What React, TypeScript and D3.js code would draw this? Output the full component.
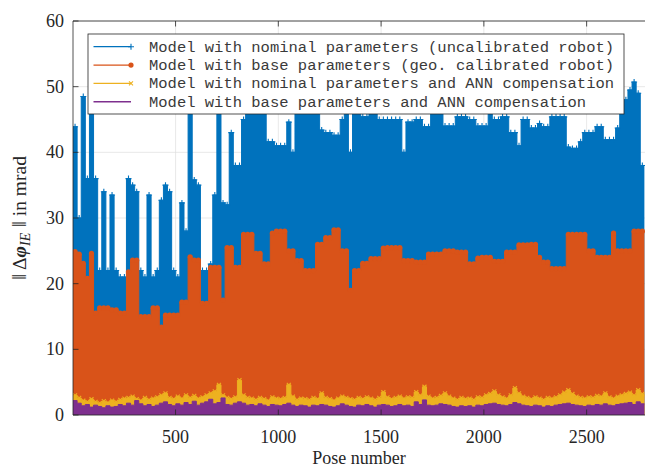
import React from "react";
import * as d3 from "d3";

// ---------- data (one value per block of 20 poses) ----------
const xTicks = [500, 1000, 1500, 2000, 2500];
const yTicks = [0, 10, 20, 30, 40, 50, 60];
const FIRST_POSE = 1;
const LAST_POSE = 2784;
const POSES_PER_BIN = 20;

const seriesNames = [
  "Model with nominal parameters (uncalibrated robot)",
  "Model with base parameters (geo. calibrated robot)",
  "Model with nominal parameters and ANN compensation",
  "Model with base parameters and ANN compensation",
];

// upper envelope of the error per block of poses (mrad)
const nominalUncal = [
  43.9, 30, 48.5, 36, 52, 36, 22, 34, 22, 33.5,
  22, 21, 21, 36, 35, 34, 22, 21, 33.5, 21,
  22, 32.7, 35, 34, 22, 21, 32.3, 28, 55, 35.8,
  35, 22, 22, 23, 33.5, 55, 32.3, 32, 43, 38,
  38, 45, 47, 48, 48, 48, 47, 41.6, 41.6, 41,
  41, 41, 44.6, 40, 48, 48, 48, 48, 48, 48,
  43.4, 43, 43, 42.6, 42.6, 45, 48, 40, 48, 48,
  45.4, 45.4, 48, 48, 45, 45, 45, 45, 45, 45,
  40, 44.6, 44.6, 45, 45, 43.9, 43.9, 47, 47, 47,
  44, 44, 44, 45.4, 45.4, 45.4, 45, 45, 44, 44,
  44, 46, 45, 45, 45.4, 45.4, 43, 43, 41, 45,
  45, 43.7, 43.7, 44.4, 43.9, 43.9, 45.4, 45.4, 45.4, 45.4,
  40.8, 40.6, 40.6, 41.6, 43, 43, 43, 43.9, 43.9, 41.9,
  41.9, 41.9, 43.7, 47, 48, 49.5, 50.7, 49, 38,
];

const baseGeoCal = [
  24.9, 24.5, 23.1, 20.8, 24.6, 15.5, 16.3, 16.3, 16.3, 16,
  16, 15.5, 15.5, 21.8, 23.6, 23.6, 15, 15, 15, 16.3,
  16.3, 13.4, 15.2, 15.2, 15.2, 15.2, 17.2, 17.2, 24.1, 23.6,
  23.6, 17, 17, 22.5, 22.5, 22.5, 17.5, 25.5, 25.5, 22.5,
  22.5, 27.5, 27.5, 27.5, 24.6, 24.6, 23, 23, 27.7, 28,
  28, 28, 25, 25, 23.5, 23.5, 22, 22, 22, 26,
  26, 27, 27, 28.2, 28.2, 25, 25, 19, 22, 22,
  23.1, 23.1, 23.8, 23.8, 23.8, 25.4, 25.5, 25.5, 25.5, 25.5,
  23.5, 23.5, 23.5, 23.3, 23.3, 23.3, 24.5, 24.5, 24.5, 24.5,
  25, 25, 25, 24.8, 24.8, 24.8, 23, 23, 23.9, 24,
  24, 24, 23.4, 23.4, 23.4, 24.8, 24.8, 24.8, 25.9, 25.9,
  25.9, 26, 26, 24, 23.3, 23.3, 22.3, 22.3, 22.3, 22.3,
  27.5, 27.5, 27.5, 27.5, 27.5, 25, 25, 24, 24, 24,
  24, 27.7, 25, 25, 25, 25, 28, 28, 28,
];

const nominalAnn = [
  3.0, 2.6, 2.2, 2.0, 2.4, 2.0, 1.8, 2.1, 1.9, 2.2,
  2.0, 2.3, 2.5, 2.6, 2.8, 2.4, 2.2, 2.6, 2.3, 2.5,
  2.7, 3.0, 3.3, 2.6, 2.4, 2.8, 2.5, 3.0, 2.6, 2.9,
  2.5, 2.7, 3.0, 3.3, 3.6, 4.6, 3.0, 2.6, 2.4, 2.7,
  5.3, 3.0, 2.6, 2.5, 2.3, 2.6, 2.4, 2.2, 2.7, 2.5,
  2.4, 2.6, 4.6, 2.8, 2.3, 2.5, 2.4, 2.3, 2.6, 2.4,
  3.3, 2.6, 2.4, 2.2, 2.5, 2.8, 2.6, 2.4, 2.3, 2.6,
  2.4, 2.7, 2.5, 2.3, 2.6, 3.5, 2.7, 2.4, 2.6, 2.8,
  2.5, 2.7, 2.6, 3.5, 3.0, 4.3, 2.8, 2.5, 2.6, 2.9,
  3.3, 2.8, 2.5, 2.3, 2.6, 2.4, 2.5, 2.3, 2.7, 2.6,
  3.0, 3.2, 3.6, 3.0, 2.7, 2.5, 3.0, 4.1, 3.3, 2.8,
  2.6, 2.4, 2.7, 2.5, 2.3, 2.6, 2.5, 2.7, 3.0, 3.4,
  3.8, 3.2, 2.8, 2.6, 2.5, 2.7, 2.6, 2.9, 2.8, 3.3,
  2.7, 2.5, 2.8, 3.0, 3.2, 3.4, 3.0, 3.8, 3.2,
];

const baseAnn = [
  2.2, 1.8, 1.4, 1.6, 1.2, 1.5, 1.3, 1.1, 1.4, 1.2,
  1.3, 1.6, 1.4, 1.8, 1.5, 2.2, 1.7, 1.4, 1.6, 1.3,
  1.5, 1.8, 2.0, 1.6, 1.4, 1.7, 1.5, 1.9, 1.6, 2.1,
  1.5, 1.8, 2.0, 2.4, 1.7, 1.9, 2.6, 1.6, 1.5, 1.8,
  2.0, 1.8, 1.5, 1.6, 1.4, 1.7, 1.5, 1.3, 1.6, 1.5,
  1.4, 1.6, 1.8, 1.5, 1.3, 1.5, 1.4, 1.2, 1.5, 1.4,
  1.6, 1.5, 1.3, 1.2, 1.4, 1.7, 1.5, 1.3, 1.2, 1.5,
  1.4, 1.6, 1.4, 1.2, 1.5, 1.6, 1.5, 1.3, 1.4, 1.6,
  1.4, 1.5, 1.3, 2.0, 1.6, 2.3, 1.5, 1.4, 1.5, 1.7,
  1.6, 1.5, 1.3, 1.2, 1.4, 1.3, 1.4, 1.2, 1.5, 1.4,
  1.6, 1.7, 1.8, 1.6, 1.5, 1.4, 1.6, 1.9, 1.7, 1.5,
  1.4, 1.3, 1.5, 1.4, 1.2, 1.4, 1.3, 1.5, 1.6, 1.7,
  1.8, 1.6, 1.5, 1.4, 1.3, 1.5, 1.4, 1.6, 1.5, 1.7,
  1.5, 1.4, 1.6, 1.7, 1.8, 1.9, 1.6, 2.0, 1.7,
];

// ---------- styling ----------
const COLORS = ["#0072BD", "#D95319", "#EDB120", "#7E2F8E"];
const MARKERS = ["plus", "dot", "cross", "none"];
const AXIS = "#262626";
const GRID = "#dfdfdf";
const SERIF = "'Liberation Serif', 'DejaVu Serif', serif";
const MONO = "'Liberation Mono', 'DejaVu Sans Mono', monospace";

const W = 645;
const H = 467;
const PL = 73, PR = 645, PT = 21, PB = 415;

type Pt = { p: number; v: number };

// each block spans its 20 poses; a closing point ends the last block
function binPoints(vals: number[]): Pt[] {
  const pts = vals.map((v, i) => ({ p: FIRST_POSE + i * POSES_PER_BIN, v }));
  pts.push({ p: FIRST_POSE + vals.length * POSES_PER_BIN, v: vals[vals.length - 1] });
  return pts;
}

function Marker({ kind, cx, cy, color }: { kind: string; cx: number; cy: number; color: string }) {
  if (kind === "plus")
    return <path d={`M${cx - 3},${cy}H${cx + 3}M${cx},${cy - 3}V${cy + 3}`} stroke={color} strokeWidth={1.1} fill="none" />;
  if (kind === "dot") return <circle cx={cx} cy={cy} r={2.6} fill={color} />;
  if (kind === "cross")
    return <path d={`M${cx - 2},${cy - 2}L${cx + 2},${cy + 2}M${cx - 2},${cy + 2}L${cx + 2},${cy - 2}`} stroke={color} strokeWidth={1.1} fill="none" />;
  return null;
}

export default function App() {
  const x = d3.scaleLinear().domain([FIRST_POSE, LAST_POSE]).range([PL, PR]);
  const y = d3.scaleLinear().domain([0, 60]).range([PB, PT]);
  const allSeries = [nominalUncal, baseGeoCal, nominalAnn, baseAnn];

  const area = d3
    .area<Pt>()
    .x((d) => x(d.p))
    .y0(y(0))
    .y1((d) => y(d.v))
    .curve(d3.curveStepAfter);
  const topLine = d3
    .line<Pt>()
    .x((d) => x(d.p))
    .y((d) => y(d.v))
    .curve(d3.curveStepAfter);

  const legendX = 88, legendY = 34, legendW = 536, legendH = 80;
  const rowY = (i: number) => 46.7 + i * 18.35;

  return (
    <svg width={W} height={H} style={{ position: "absolute", left: 0, top: 0, background: "#fff" }}>
      <defs>
        <clipPath id="plotClip">
          <rect x={PL} y={PT} width={PR - PL} height={PB - PT} />
        </clipPath>
      </defs>
      <rect x={0} y={0} width={W} height={H} fill="#fff" />
      {/* grid */}
      <g stroke={GRID} strokeWidth={0.7}>
        {xTicks.map((t) => (
          <line key={"gx" + t} x1={x(t)} x2={x(t)} y1={PT} y2={PB} />
        ))}
        {yTicks.map((t) => (
          <line key={"gy" + t} x1={PL} x2={PR} y1={y(t)} y2={y(t)} />
        ))}
      </g>
      {/* series */}
      <g clipPath="url(#plotClip)">
        {allSeries.map((vals, si) => {
          const pts = binPoints(vals);
          return (
            <g key={"s" + si}>
              <path d={area(pts) || ""} fill={COLORS[si]} stroke="none" />
              <path d={topLine(pts) || ""} fill="none" stroke={COLORS[si]} strokeWidth={1} />
              {vals.map((v, i) => (
                <Marker
                  key={i}
                  kind={MARKERS[si]}
                  cx={x(FIRST_POSE + i * POSES_PER_BIN + POSES_PER_BIN / 2)}
                  cy={y(v)}
                  color={COLORS[si]}
                />
              ))}
            </g>
          );
        })}
      </g>
      {/* axes frame & ticks */}
      <g stroke={AXIS} strokeWidth={0.8} fill="none">
        <line x1={PL} x2={PR} y1={PB} y2={PB} />
        <line x1={PL} x2={PR} y1={PT} y2={PT} />
        <line x1={PL} x2={PL} y1={PT} y2={PB} />
        {xTicks.map((t) => (
          <g key={"tx" + t}>
            <line x1={x(t)} x2={x(t)} y1={PB} y2={PB - 5.5} />
            <line x1={x(t)} x2={x(t)} y1={PT} y2={PT + 5.5} />
          </g>
        ))}
        {yTicks.map((t) => (
          <line key={"ty" + t} x1={PL} x2={PL + 5.5} y1={y(t)} y2={y(t)} />
        ))}
      </g>
      {/* tick labels */}
      <g fontFamily={SERIF} fontSize={18} fill={AXIS}>
        {xTicks.map((t) => (
          <text key={"lx" + t} x={x(t)} y={443} textAnchor="middle">
            {t}
          </text>
        ))}
        {yTicks.map((t) => (
          <text key={"ly" + t} x={64} y={y(t) + 6} textAnchor="end">
            {t}
          </text>
        ))}
      </g>
      {/* axis labels */}
      <text x={(PL + PR) / 2} y={464} textAnchor="middle" fontFamily={SERIF} fontSize={18} fill={AXIS}>
        Pose number
      </text>
      <text
        transform={`translate(26, ${(PT + PB) / 2}) rotate(-90)`}
        textAnchor="middle"
        fontFamily={SERIF}
        fontSize={19.5}
        fill={AXIS}
      >
        <tspan fontSize={22}>{"‖"}</tspan>
        {" Δ"}
        <tspan fontStyle="italic" fontWeight="bold">φ</tspan>
        <tspan fontStyle="italic" fontSize={14} dy={4}>
          IE
        </tspan>
        <tspan dy={-4} fontSize={22}>{" ‖"}</tspan>
        <tspan>{" in mrad"}</tspan>
      </text>
      {/* legend */}
      <g>
        <rect x={legendX} y={legendY} width={legendW} height={legendH} fill="#fff" stroke={AXIS} strokeWidth={0.8} />
        {seriesNames.map((name, i) => (
          <g key={"lg" + i}>
            <line x1={93.5} x2={131} y1={rowY(i)} y2={rowY(i)} stroke={COLORS[i]} strokeWidth={1.3} />
            <Marker kind={MARKERS[i]} cx={131} cy={rowY(i)} color={COLORS[i]} />
            <text x={149} y={rowY(i) + 5} fontFamily={MONO} fontSize={15.5} fill="#3a3a3a">
              {name}
            </text>
          </g>
        ))}
      </g>
    </svg>
  );
}
